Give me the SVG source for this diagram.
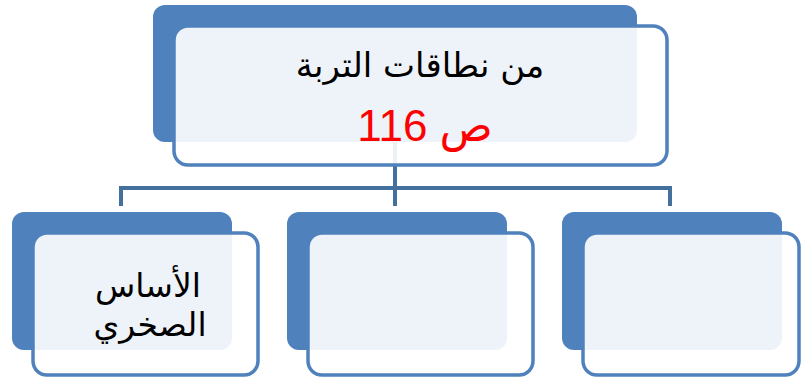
<svg xmlns="http://www.w3.org/2000/svg" width="801" height="381" viewBox="0 0 801 381">
<style>
.back{fill:#4F81BD;}
.front{fill:#FFFFFF;fill-opacity:0.9;stroke:#4F81BD;stroke-width:3.5;}
.conn{fill:none;stroke:#44709E;stroke-width:4;}
.t{font-family:"DejaVu Sans",sans-serif;fill:#000;text-anchor:middle;direction:rtl;}
.r{font-family:"Liberation Sans","DejaVu Sans",sans-serif;fill:#FF0000;text-anchor:middle;direction:rtl;}
</style>
<rect width="801" height="381" fill="#FFFFFF"/>
<g id="connectors">
<path class="conn" d="M395 142 V206 M121 206 V188 H670 V206"/>
</g>
<g id="top">
<rect class="back" x="153" y="5" width="484" height="137" rx="12"/>
<rect class="front" x="174" y="26" width="493" height="139" rx="14"/>
<text class="t" x="420" y="77" font-size="34">من نطاقات التربة</text>
<text class="r" x="425" y="141" font-size="44">ص 116</text>
</g>
<g id="left">
<rect class="back" x="12" y="212" width="220" height="138" rx="12"/>
<rect class="front" x="33" y="233" width="225" height="142" rx="14"/>
<text class="t" x="148" y="297" font-size="33">الأساس</text>
<text class="t" x="150" y="336" font-size="33">الصخري</text>
</g>
<g id="middle">
<rect class="back" x="287" y="212" width="220" height="138" rx="12"/>
<rect class="front" x="308" y="233" width="225" height="142" rx="14"/>
</g>
<g id="right">
<rect class="back" x="562" y="212" width="220" height="138" rx="12"/>
<rect class="front" x="583" y="233" width="216" height="142" rx="14"/>
</g>
</svg>
